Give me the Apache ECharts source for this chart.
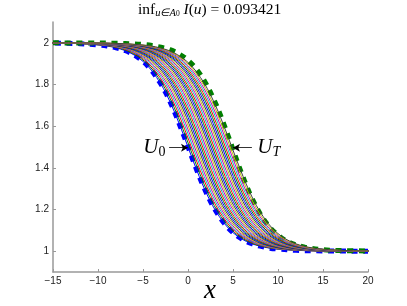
<!DOCTYPE html>
<html>
<head>
<meta charset="utf-8">
<script src="https://cdn.jsdelivr.net/npm/echarts@6/dist/echarts.min.js"></script>
<style>html,body{margin:0;padding:0;background:#fff}#c{width:407px;height:306px}</style>
</head>
<body>
<div id="c"></div>
<script>
// ---- data ----
// U_0 profile (blue, thick dashed) and the first thin curve
var u0X = [-20,-15,-12,-10,-9,-8,-7,-6,-5,-4,-3,-2.5,-2,-1.5,-1,-0.5,0,0.5,1,1.5,2,2.5,3,4,5,6,7,8,9,10,12,15,20];
var u0Y = [2.000,1.999,1.996,1.990,1.985,1.976,1.963,1.942,1.911,1.865,1.801,1.762,1.717,1.668,1.614,1.558,1.500,1.442,1.386,1.332,1.283,1.238,1.199,1.135,1.089,1.058,1.037,1.024,1.015,1.010,1.004,1.001,1.000];
// U_T profile (green, thick dashed)
var uTX = [-15,-10,-8,-6,-5,-4,-3,-2,-1,0,1,2,3,3.5,4,4.5,5,5.5,6,6.5,7,8,9,10,11,12,13,15,17,20];
var uTY = [2.000,1.999,1.998,1.995,1.992,1.987,1.979,1.967,1.947,1.916,1.870,1.804,1.716,1.665,1.608,1.549,1.488,1.427,1.369,1.314,1.264,1.181,1.119,1.077,1.048,1.030,1.019,1.007,1.003,1.001];
// horizontal position of each thin intermediate curve relative to U_0 (read at u = 1.5)
var curveShift = [0,0.18,0.37,0.55,0.73,0.91,1.09,1.27,1.45,1.63,1.81,1.99,2.17,2.35,2.53,2.71,2.89,3.07,3.25,3.43,3.61,3.79,3.97,4.15,4.33,4.51,4.69,4.87];
var xTicks = [-15,-10,-5,0,5,10,15,20];
var yTicks = [1,1.2,1.4,1.6,1.8,2];
var titleValue = '0.093421';
var xName = 'x';
// annotation arrows: [tail x, head x, y] and label anchor x
var arrowU0 = {from: -2.1, to: 0.0, y: 1.497, textX: -2.5, sub: '0'};
var arrowUT = {from: 7.1, to: 5.0, y: 1.497, textX: 7.7, sub: 'T'};

// ---- styles ----
var palette = ['#0000ff','#008000','#ff0000','#00bfbf','#bf00bf','#bfbf00','#404040'];
var serif = 'Liberation Serif';

function pairs(xs, ys, dx) {
  return xs.map(function (x, i) { return [x + (dx || 0), ys[i]]; });
}
function richU(italicSub) {
  return {
    u: {fontFamily: serif, fontStyle: 'italic', fontSize: 21, color: '#000', lineHeight: 24, verticalAlign: 'middle'},
    s: {fontFamily: serif, fontStyle: italicSub ? 'italic' : 'normal', fontSize: 14, color: '#000', lineHeight: 14, verticalAlign: 'bottom'}
  };
}
function annot(a, pos) {
  return {
    markLine: {
      silent: true, symbol: ['none', 'arrow'], symbolSize: [6, 7],
      lineStyle: {color: '#000', width: 0.8, type: 'solid'},
      label: {show: false},
      data: [[{coord: [a.from, a.y]}, {coord: [a.to, a.y]}]]
    },
    markPoint: {
      symbol: 'circle', symbolSize: 0, silent: true,
      data: [{coord: [a.textX, a.y]}],
      label: {
        show: true, position: pos, distance: 0,
        formatter: '{u|U}{s|' + a.sub + '}',
        rich: richU(a.sub === 'T')
      }
    }
  };
}

var series = [];
var s0 = {
  type: 'line', data: pairs(u0X, u0Y), showSymbol: false, smooth: 0.35, z: 3, silent: true,
  lineStyle: {color: '#0000ff', width: 5, type: [6, 5.7], cap: 'butt'}
};
Object.assign(s0, annot(arrowU0, 'left'));
series.push(s0);
var sT = {
  type: 'line', data: pairs(uTX, uTY), showSymbol: false, smooth: 0.35, z: 4, silent: true,
  lineStyle: {color: '#008000', width: 5, type: [6, 5.7], cap: 'butt'}
};
Object.assign(sT, annot(arrowUT, 'right'));
series.push(sT);
curveShift.forEach(function (s, k) {
  series.push({
    type: 'line', data: pairs(u0X, u0Y, s), showSymbol: false, smooth: 0.35, z: 5,
    silent: true,
    lineStyle: {color: palette[k % palette.length], width: 1}
  });
});

var chart = echarts.init(document.getElementById('c'), null, {renderer: 'canvas'});
chart.setOption({
  animation: false,
  backgroundColor: '#fff',
  grid: {left: 53, right: 39, top: 22, bottom: 34, containLabel: false, outerBoundsMode: 'none'},
  xAxis: {
    type: 'value', min: -15, max: 20, interval: 5,
    axisLine: {show: true, onZero: false, lineStyle: {color: '#999', width: 1.5}},
    axisTick: {show: true, inside: true, length: 3, lineStyle: {color: '#999', width: 1}, customValues: xTicks},
    axisLabel: {color: '#222', fontSize: 10, fontFamily: 'Liberation Sans', margin: 4, customValues: xTicks,
      formatter: function (v) { return String(v).replace('-', '\u2212'); }},
    splitLine: {show: false}
  },
  yAxis: {
    type: 'value', min: 0.9, max: 2.1,
    axisLine: {show: true, onZero: false, lineStyle: {color: '#999', width: 1.5}},
    axisTick: {show: true, inside: true, length: 3, lineStyle: {color: '#999', width: 1}, customValues: yTicks},
    axisLabel: {color: '#222', fontSize: 10, fontFamily: 'Liberation Sans', margin: 4, customValues: yTicks},
    splitLine: {show: false}
  },
  graphic: [{
    type: 'text', left: 138, top: 2,
    style: {
      text: '{r|inf}{s|u∈A}{ss|0}{r| }{i|I}{r|(}{i|u}{r|) = ' + titleValue + '}',
      rich: {
        r: {fontFamily: serif, fontSize: 15.5, fill: '#000', lineHeight: 17, verticalAlign: 'middle'},
        i: {fontFamily: serif, fontStyle: 'italic', fontSize: 15.5, fill: '#000', lineHeight: 17, verticalAlign: 'middle'},
        s: {fontFamily: serif, fontStyle: 'italic', fontSize: 10.5, fill: '#000', lineHeight: 11, verticalAlign: 'bottom'},
        ss: {fontFamily: serif, fontSize: 7.5, fill: '#000', lineHeight: 7, verticalAlign: 'bottom'}
      }
    }
  }, {
    type: 'text', x: 210, y: 291,
    style: {
      text: xName, fontFamily: serif, fontStyle: 'italic', fontSize: 27, fill: '#000',
      align: 'center', verticalAlign: 'middle'
    }
  }],
  series: series
});
</script>
</body>
</html>
